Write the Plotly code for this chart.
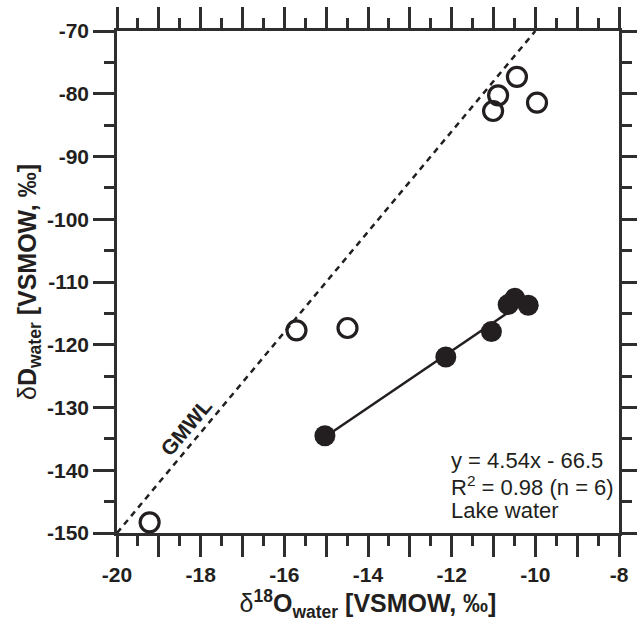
import plotly.graph_objects as go

# GMWL endpoints (dD = 8 d18O + 10)
gmwl_x = [-20, -10]
gmwl_y = [-150, -70]

# other waters (open circles)
other_x = [-10.44, -10.89, -11.01, -9.96, -15.71, -14.49, -19.22]
other_y = [-77.3, -80.25, -82.75, -81.4, -117.7, -117.33, -148.3]

# lake water (filled circles)
lake_x = [-15.03, -12.14, -11.05, -10.49, -10.65, -10.17]
lake_y = [-134.5, -121.95, -117.9, -112.6, -113.6, -113.7]

# regression line for lake water, y = 4.54x - 66.5
fit_x = [-15.03, -10.5]
fit_y = [-134.7, -114.2]

x_ticks = list(range(-20, -7))
x_labels = [str(v) if v % 2 == 0 else "" for v in x_ticks]
y_ticks = list(range(-150, -69, 10))
y_labels = [str(v) for v in y_ticks]

note_lines = ["y = 4.54x - 66.5", "R<sup>2</sup> = 0.98 (n = 6)", "Lake water"]
note_y = [-138.5, -142.5, -146.4]

INK = "#231f20"
AX = "#2e2e2e"
FONT = "Liberation Sans, Arial, sans-serif"

fig = go.Figure()

fig.add_trace(go.Scatter(x=gmwl_x, y=gmwl_y, mode="lines",
                         line=dict(color=INK, width=2.5, dash="6px,5px"),
                         hoverinfo="skip"))
fig.add_trace(go.Scatter(x=fit_x, y=fit_y, mode="lines",
                         line=dict(color=INK, width=2.5)))
fig.add_trace(go.Scatter(x=other_x, y=other_y, mode="markers",
                         marker=dict(symbol="circle-open", size=19, color=INK,
                                     line=dict(width=3.2, color=INK)),
                         cliponaxis=False))
fig.add_trace(go.Scatter(x=lake_x, y=lake_y, mode="markers",
                         marker=dict(symbol="circle", size=21, color=INK,
                                     line=dict(width=0)),
                         cliponaxis=False))

fig.add_annotation(x=-18.33, y=-133.1, text="<b>GMWL</b>", showarrow=False,
                   textangle=-50,
                   font=dict(family=FONT, size=21, color=INK))

for txt, yy in zip(note_lines, note_y):
    fig.add_annotation(x=-12.07, y=yy, text=txt, showarrow=False,
                       xanchor="left", yanchor="middle",
                       font=dict(family=FONT, size=22, color=INK))

axis_common = dict(
    showline=True, linecolor=AX, linewidth=2.5, mirror="ticks",
    ticks="outside", ticklen=21, tickwidth=2.5, tickcolor=AX,
    showgrid=False, zeroline=False, automargin=False,
    tickfont=dict(family=FONT, size=21, color=INK),
)

fig.update_xaxes(
    range=[-20, -8], tickmode="array", tickvals=x_ticks,
    ticktext=["<b>%s</b>" % t if t else "" for t in x_labels],
    minor=dict(dtick=0.5, tick0=-20, ticks="outside", ticklen=10,
               tickwidth=2.5, tickcolor=AX),
    title=dict(text="<span style='font-weight:normal'>δ</span><b><sup>18</sup>O<sub>water</sub> [VSMOW, ‰]</b>",
               font=dict(family=FONT, size=25, color=INK),
               standoff=2),
    **axis_common,
)
fig.update_yaxes(
    range=[-150, -70], tickmode="array", tickvals=y_ticks,
    ticktext=["<b>%s</b>" % t for t in y_labels],
    minor=dict(dtick=5, tick0=-150, ticks="outside", ticklen=10,
               tickwidth=2.5, tickcolor=AX),
    title=dict(text="<span style='font-weight:normal'>δ</span><b>D<sub>water</sub> [VSMOW, ‰]</b>",
               font=dict(family=FONT, size=25, color=INK),
               standoff=4),
    **axis_common,
)

fig.update_layout(
    width=637, height=622, autosize=False,
    margin=dict(l=117, r=18, t=31, b=89),
    plot_bgcolor="white", paper_bgcolor="white",
    showlegend=False,
)

# drop the browser's default page margin so the figure sits at the corner
fig.write_html("out.html", config={"displayModeBar": False},
               post_script="document.body.style.margin='0';")
